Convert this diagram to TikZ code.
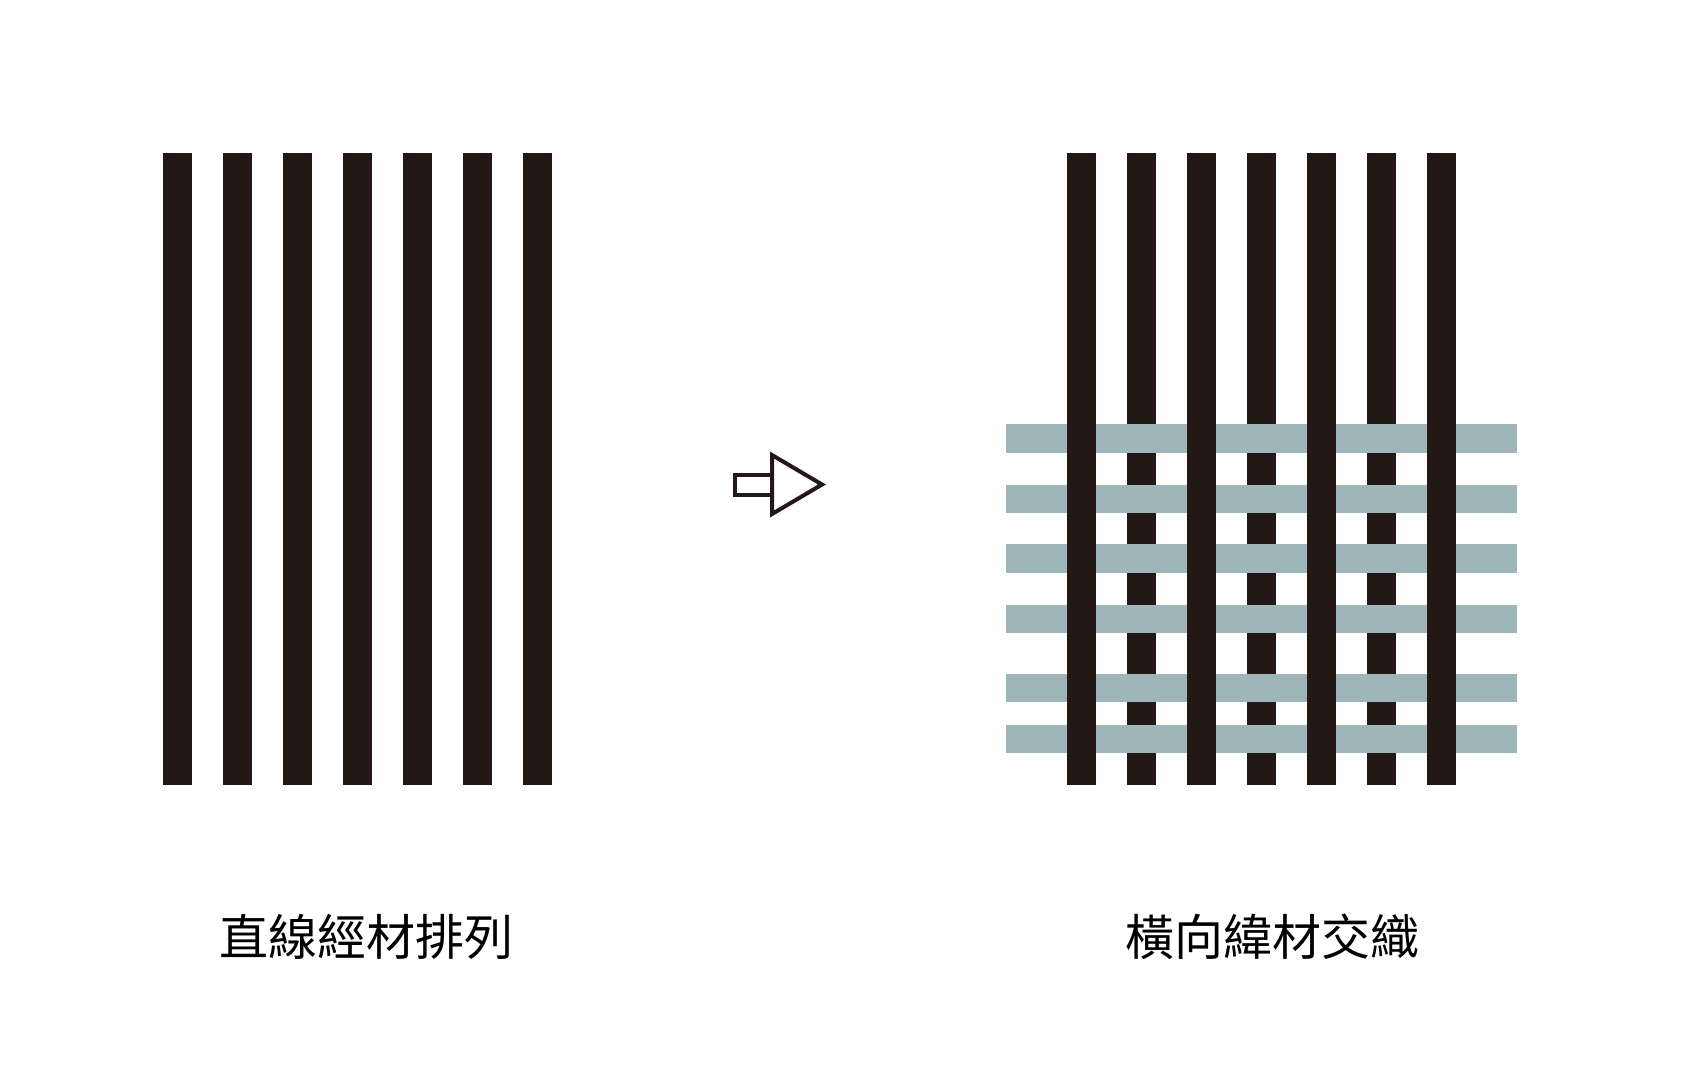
\documentclass[tikz,border=0pt]{standalone}
\usepackage{fontspec}
\newfontfamily\cjk{Noto Sans CJK TC}
\usepackage{tikz}
\definecolor{warpblack}{HTML}{231815}
\definecolor{weftgray}{HTML}{9EB6B9}

\begin{document}
\begin{tikzpicture}[x=1pt, y=-1pt,
warp/.style={fill=warpblack},
weft/.style={fill=weftgray},
caption/.style={font=\cjk\fontsize{49}{49}\selectfont, inner sep=0pt, text=black}]
\useasboundingbox[fill=white] (0,0) rectangle (1707,1085);
% left: warp only
\foreach \i in {0,...,6}
  \fill[warp] (163+60*\i,153.3) rectangle (192+60*\i,785);
% arrow
\draw[warpblack, line width=4pt, line join=miter] (772,475.3) -- (735.3,475.3) -- (735.3,494.7) -- (772,494.7);
\draw[warpblack, line width=4pt, line join=miter] (772,455) -- (822,484.5) -- (772,514) -- cycle;
% right: warp under, then weft, then warp over
\foreach \i in {1,3,5}
  \fill[warp] (1066.7+60.1*\i,153.3) rectangle (1095.5+60.1*\i,785);
\foreach \y/\h in {424.3/453, 484.7/513.3, 544.3/573.3, 604.7/633.3, 673.7/702.3, 724.7/753.3}
  \fill[weft] (1006,\y) rectangle (1516.7,\h);
\foreach \i in {0,2,4,6}
  \fill[warp] (1066.7+60.1*\i,153.3) rectangle (1095.5+60.1*\i,785);
\node[caption] (warplabel) at (366,937) {直線經材排列};
\node[caption] (weftlabel) at (1272.5,937) {橫向緯材交織};
\end{tikzpicture}
\end{document}
